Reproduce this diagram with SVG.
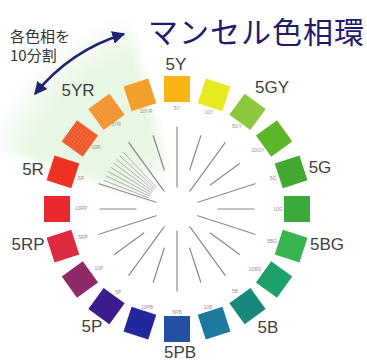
<svg xmlns="http://www.w3.org/2000/svg" width="367" height="362" viewBox="0 0 367 362">
<style>
.hue{font-family:"Liberation Sans",Arial,sans-serif;font-size:17px;fill:#404040;text-anchor:middle}
.tiny{font-family:"Liberation Sans",Arial,sans-serif;font-size:5px;fill:#a08c94;text-anchor:middle}
.jp{font-family:"Noto Sans CJK JP",sans-serif;font-size:15px;fill:#333}
.title{font-family:"Noto Sans CJK JP",sans-serif;font-size:30px;fill:#1e1b6e;letter-spacing:1px}
.sq{stroke:none}
.rl{stroke:#8a8a8a;stroke-width:1.2;stroke-linecap:round}
.fl{stroke:#9a9a9a;stroke-width:0.7}
</style>
<defs>
<radialGradient id="wg" cx="177" cy="209" r="205" gradientUnits="userSpaceOnUse">
<stop offset="0" stop-color="#e6f5e1" stop-opacity="0"/>
<stop offset="0.12" stop-color="#e6f5e1" stop-opacity="0"/>
<stop offset="0.3" stop-color="#e6f5e1" stop-opacity="0.9"/>
<stop offset="0.78" stop-color="#e8f6e4" stop-opacity="1"/>
<stop offset="0.9" stop-color="#eef8ec" stop-opacity="0.6"/>
<stop offset="1" stop-color="#f6fbf4" stop-opacity="0"/>
</radialGradient>
<filter id="soft" x="-20%" y="-20%" width="140%" height="140%"><feGaussianBlur stdDeviation="5"/></filter>
<pattern id="hatch" width="3" height="3" patternUnits="userSpaceOnUse">
<path d="M0 0.5H3M0.5 0V3" stroke="#ffd9a0" stroke-width="0.6" opacity="0.22"/>
</pattern>
<marker id="ah" viewBox="0 0 10 10" refX="9" refY="5" markerWidth="5" markerHeight="5" orient="auto-start-reverse">
<path d="M0 0L10 5L0 10z" fill="#1c2370"/>
</marker>
</defs>
<rect width="367" height="362" fill="#fff"/>
<path d="M177 209L121 -10L-15 -10L-15 144z" fill="url(#wg)" filter="url(#soft)"/>
<text class="title" x="148" y="43">マンセル色相環</text>
<text class="jp" x="10" y="42">各色相を</text>
<text class="jp" x="10" y="61">10分割</text>
<g id="connectors">
<path d="M35 94A183 183 0 0 1 124 34" fill="none" stroke="#1c2370" stroke-width="2.6" marker-start="url(#ah)" marker-end="url(#ah)"/>
<line class="rl" x1="177" y1="187" x2="177" y2="127"/>
<line class="rl" x1="189.9" y1="191.2" x2="225.2" y2="142.7"/>
<line class="rl" x1="197.9" y1="202.2" x2="255" y2="183.7"/>
<line class="rl" x1="197.9" y1="215.8" x2="255" y2="234.3"/>
<line class="rl" x1="189.9" y1="226.8" x2="225.2" y2="275.3"/>
<line class="rl" x1="177" y1="231" x2="177" y2="291"/>
<line class="rl" x1="164.1" y1="226.8" x2="128.8" y2="275.3"/>
<line class="rl" x1="156.1" y1="215.8" x2="99" y2="234.3"/>
<line class="rl" x1="156.1" y1="202.2" x2="99" y2="183.7"/>
<line class="rl" x1="164.1" y1="191.2" x2="128.8" y2="142.7"/>
<line class="rl" x1="189.7" y1="170" x2="200.8" y2="135.8"/>
<line class="rl" x1="210.2" y1="184.9" x2="239.3" y2="163.7"/>
<line class="rl" x1="218" y1="209" x2="254" y2="209"/>
<line class="rl" x1="210.2" y1="233.1" x2="239.3" y2="254.3"/>
<line class="rl" x1="189.7" y1="248" x2="200.8" y2="282.2"/>
<line class="rl" x1="164.3" y1="248" x2="153.2" y2="282.2"/>
<line class="rl" x1="143.8" y1="233.1" x2="114.7" y2="254.3"/>
<line class="rl" x1="136" y1="209" x2="100" y2="209"/>
<line class="rl" x1="164.3" y1="170" x2="153.2" y2="135.8"/>
<g transform="translate(177 209)">
<line class="fl" x1="-19.3" y1="-23.1" x2="-50.1" y2="-60.1" transform="rotate(3.6)"/>
<line class="fl" x1="-19.3" y1="-23.1" x2="-50.1" y2="-60.1" transform="rotate(-3.6)"/>
<line class="fl" x1="-19.3" y1="-23.1" x2="-50.1" y2="-60.1" transform="rotate(-7.2)"/>
<line class="fl" x1="-19.3" y1="-23.1" x2="-50.1" y2="-60.1" transform="rotate(-10.8)"/>
<line class="fl" x1="-19.3" y1="-23.1" x2="-50.1" y2="-60.1" transform="rotate(-14.4)"/>
<line class="fl" x1="-19.3" y1="-23.1" x2="-50.1" y2="-60.1" transform="rotate(-18)"/>
<line class="fl" x1="-19.3" y1="-23.1" x2="-50.1" y2="-60.1" transform="rotate(-21.6)"/>
<line class="fl" x1="-19.3" y1="-23.1" x2="-50.1" y2="-60.1" transform="rotate(-25.2)"/>
<line class="fl" x1="-19.3" y1="-23.1" x2="-50.1" y2="-60.1" transform="rotate(-28.8)"/>
</g>
</g>
<g id="h5Y"><rect class="sq" x="-13" y="-13" width="26" height="26" fill="#f8b414" transform="translate(177 89)"/><text class="tiny" x="177" y="110">5Y</text><text class="hue" x="176" y="70">5Y</text></g>
<g id="h10Y"><rect class="sq" x="-13" y="-13" width="26" height="26" fill="#e6ea22" transform="translate(214.1 94.9) rotate(18)"/><text class="tiny" x="209" y="114">10Y</text></g>
<g id="h5GY"><rect class="sq" x="-13" y="-13" width="26" height="26" fill="#8cc83c" transform="translate(247.5 111.9) rotate(36)"/><text class="tiny" x="237" y="128">5GY</text><text class="hue" x="272" y="93">5GY</text></g>
<g id="h10GY"><rect class="sq" x="-13" y="-13" width="26" height="26" fill="#5cb828" transform="translate(274.1 138.5) rotate(54)"/><text class="tiny" x="258" y="152">10GY</text></g>
<g id="h5G"><rect class="sq" x="-13" y="-13" width="26" height="26" fill="#45a832" transform="translate(291.1 171.9) rotate(72)"/><text class="tiny" x="273" y="180">5G</text><text class="hue" x="320" y="173">5G</text></g>
<g id="h10G"><rect class="sq" x="-13" y="-13" width="26" height="26" fill="#3aaa3c" transform="translate(297 209) rotate(90)"/><text class="tiny" x="278" y="211">10G</text></g>
<g id="h5BG"><rect class="sq" x="-13" y="-13" width="26" height="26" fill="#38b450" transform="translate(291.1 246.1) rotate(108)"/><text class="tiny" x="272" y="243">5BG</text><text class="hue" x="327" y="250">5BG</text></g>
<g id="h10BG"><rect class="sq" x="-13" y="-13" width="26" height="26" fill="#1ea06a" transform="translate(274.1 279.5) rotate(126)"/><text class="tiny" x="255" y="271">10BG</text></g>
<g id="h5B"><rect class="sq" x="-13" y="-13" width="26" height="26" fill="#17887a" transform="translate(247.5 306.1) rotate(144)"/><text class="tiny" x="235" y="293">5B</text><text class="hue" x="268" y="333">5B</text></g>
<g id="h10B"><rect class="sq" x="-13" y="-13" width="26" height="26" fill="#1e7a9c" transform="translate(214.1 323.1) rotate(162)"/><text class="tiny" x="208" y="309">10B</text></g>
<g id="h5PB"><rect class="sq" x="-13" y="-13" width="26" height="26" fill="#2450a6" transform="translate(177 329) rotate(180)"/><text class="tiny" x="177" y="314">5PB</text><text class="hue" x="180" y="358">5PB</text></g>
<g id="h10PB"><rect class="sq" x="-13" y="-13" width="26" height="26" fill="#22289a" transform="translate(139.9 323.1) rotate(198)"/><text class="tiny" x="147" y="309">10PB</text></g>
<g id="h5P"><rect class="sq" x="-13" y="-13" width="26" height="26" fill="#3a1c8c" transform="translate(106.5 306.1) rotate(216)"/><text class="tiny" x="118" y="294">5P</text><text class="hue" x="92" y="332">5P</text></g>
<g id="h10P"><rect class="sq" x="-13" y="-13" width="26" height="26" fill="#8e2a66" transform="translate(79.9 279.5) rotate(234)"/><text class="tiny" x="99" y="270">10P</text></g>
<g id="h5RP"><rect class="sq" x="-13" y="-13" width="26" height="26" fill="#e02a40" transform="translate(62.9 246.1) rotate(252)"/><text class="tiny" x="83" y="239">5RP</text><text class="hue" x="28" y="250">5RP</text></g>
<g id="h10RP"><rect class="sq" x="-13" y="-13" width="26" height="26" fill="#e82a2e" transform="translate(57 209) rotate(270)"/><text class="tiny" x="81" y="210">10RP</text></g>
<g id="h5R"><rect class="sq" x="-13" y="-13" width="26" height="26" fill="#ee3224" transform="translate(62.9 171.9) rotate(288)"/><text class="tiny" x="81" y="180">5R</text><text class="hue" x="33" y="175">5R</text></g>
<g id="h10R"><g transform="translate(79.9 138.5) rotate(306)"><rect class="sq" x="-13" y="-13" width="26" height="26" fill="#ee5426"/><rect x="-13" y="-13" width="26" height="26" fill="url(#hatch)"/></g><text class="tiny" x="96" y="149">10R</text></g>
<g id="h5YR"><g transform="translate(106.5 111.9) rotate(324)"><rect class="sq" x="-13" y="-13" width="26" height="26" fill="#f0922e"/><rect x="-13" y="-13" width="26" height="26" fill="url(#hatch)"/></g><text class="tiny" x="116" y="126">5YR</text><text class="hue" x="78" y="96">5YR</text></g>
<g id="h10YR"><rect class="sq" x="-13" y="-13" width="26" height="26" fill="#f5a02a" transform="translate(139.9 94.9) rotate(342)"/><text class="tiny" x="146" y="113">10YR</text></g>
</svg>
